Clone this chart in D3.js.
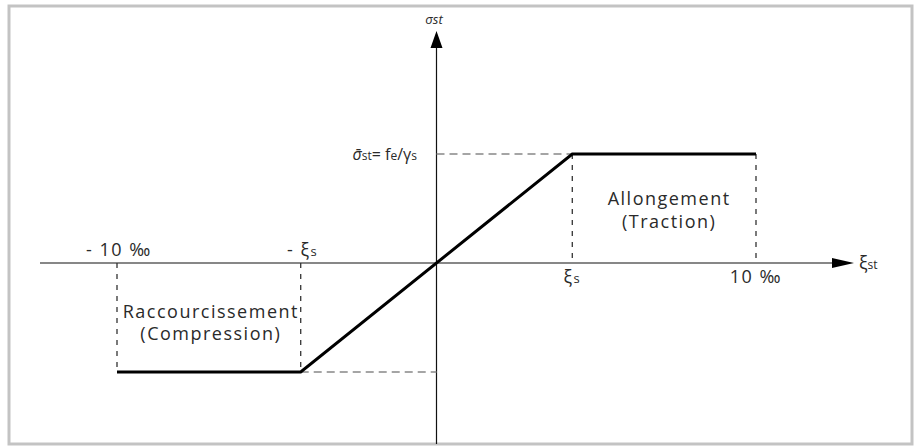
<!DOCTYPE html>
<html>
<head>
<meta charset="utf-8">
<script src="https://cdn.jsdelivr.net/npm/d3@7"></script>
<style>
  body { margin: 0; background: #fff; }
  text { font-family: "Open Sans", "DejaVu Sans", sans-serif; fill: #2a2a2a; }
</style>
</head>
<body>
<div class="chart"></div>
<script>
var svgWidth = 914;
var svgHeight = 448;

// strain (per mille) and normalised stress of the steel diagram
var xiS = 4.25;
var strain = [-10, -xiS, xiS, 10];
var stress = [-1, -1, 1, 1];

// tick positions and their labels
var tickValues = [-10, -xiS, xiS, 10];
var tickLabels = ["- 10 ‰", "- ξs", "ξs", "10 ‰"];

// region labels
var compressionLines = ["Raccourcissement", "(Compression)"];
var tractionLines = ["Allongement", "(Traction)"];

var svg = d3.select(".chart")
  .append("svg")
  .attr("width", svgWidth)
  .attr("height", svgHeight);

// frame
svg.append("rect")
  .attr("x", 9).attr("y", 6)
  .attr("width", 903).attr("height", 438)
  .attr("fill", "none")
  .attr("stroke", "#c3c3c3")
  .attr("stroke-width", 3);

var x = d3.scaleLinear().domain([-10, 10]).range([117, 756]);
var y = d3.scaleLinear().domain([-1, 1]).range([372, 154]);

var x0 = x(0), y0 = y(0);

// x axis line + arrow
svg.append("line")
  .attr("x1", 40).attr("x2", 836)
  .attr("y1", y0).attr("y2", y0)
  .attr("stroke", "#111").attr("stroke-width", 1.2);
svg.append("path")
  .attr("d", `M832,${y0 - 5}L854,${y0}L832,${y0 + 5}Z`)
  .attr("fill", "#000");

// y axis line + arrow
svg.append("line")
  .attr("x1", x0).attr("x2", x0)
  .attr("y1", 444).attr("y2", 46)
  .attr("stroke", "#111").attr("stroke-width", 1.2);
svg.append("path")
  .attr("d", `M${x0 - 6},48L${x0},31L${x0 + 6},48Z`)
  .attr("fill", "#000");

// axis titles
svg.append("text")
  .attr("x", 434).attr("y", 24)
  .attr("text-anchor", "middle")
  .attr("font-size", 13)
  .attr("font-style", "italic")
  .text("σst");

var xt = svg.append("text")
  .attr("x", 859).attr("y", 269)
  .attr("font-size", 18);
xt.append("tspan").text("ξ");
xt.append("tspan").attr("font-size", 12).text("st");

// vertical dashed guides
var vGuides = [
  { xv: -10, y1: 0, y2: -1 },
  { xv: -xiS, y1: 0, y2: -1 },
  { xv: xiS, y1: 1, y2: 0 },
  { xv: 10, y1: 1, y2: 0 }
];
svg.selectAll(".vguide")
  .data(vGuides)
  .enter()
  .append("line")
  .attr("class", "vguide")
  .attr("x1", d => x(d.xv)).attr("x2", d => x(d.xv))
  .attr("y1", d => y(d.y1)).attr("y2", d => y(d.y2))
  .attr("stroke", "#333")
  .attr("stroke-width", 1.3)
  .attr("stroke-dasharray", "5,6");

// horizontal dashed guides to the stress axis
svg.append("line")
  .attr("x1", x0).attr("x2", x(xiS))
  .attr("y1", y(1)).attr("y2", y(1))
  .attr("stroke", "#888").attr("stroke-width", 1.5)
  .attr("stroke-dasharray", "8,5");
svg.append("line")
  .attr("x1", x(-xiS)).attr("x2", x0)
  .attr("y1", y(-1)).attr("y2", y(-1))
  .attr("stroke", "#888").attr("stroke-width", 1.5)
  .attr("stroke-dasharray", "8,5");

// stress-strain law
var line = d3.line()
  .x((d, i) => x(d))
  .y((d, i) => y(stress[i]));

svg.append("path")
  .datum(strain)
  .attr("d", line)
  .attr("fill", "none")
  .attr("stroke", "#000")
  .attr("stroke-width", 3)
  .attr("stroke-linejoin", "miter");

// tick labels
tickLabels.forEach(function(lbl, i) {
  var v = tickValues[i];
  var above = v < 0;
  var t = svg.append("text")
    .attr("x", x(v) + (above ? 2 : 0))
    .attr("y", above ? 256 : 283)
    .attr("text-anchor", "middle")
    .attr("font-size", 18)
    .attr("letter-spacing", 1.5);
  if (lbl.indexOf("ξs") >= 0) {
    t.append("tspan").text(lbl.replace("s", ""));
    t.append("tspan").attr("font-size", 13).text("s");
  } else {
    t.text(lbl);
  }
});

// design yield stress label
var sl = svg.append("text")
  .attr("x", 417).attr("y", 160)
  .attr("text-anchor", "end")
  .attr("font-size", 16);
sl.append("tspan").attr("font-style", "italic").text("σ̄");
sl.append("tspan").attr("font-size", 12).text("st");
sl.append("tspan").text("= f");
sl.append("tspan").attr("font-size", 12).text("e");
sl.append("tspan").text("/γ");
sl.append("tspan").attr("font-size", 12).text("s");

// region labels
svg.selectAll(".comp")
  .data(compressionLines)
  .enter()
  .append("text")
  .attr("class", "comp")
  .attr("x", (x(-10) + x(-xiS)) / 2 + 2)
  .attr("y", (d, i) => 318 + i * 22)
  .attr("text-anchor", "middle")
  .attr("font-size", 18)
  .attr("letter-spacing", 1.5)
  .text(d => d);

svg.selectAll(".trac")
  .data(tractionLines)
  .enter()
  .append("text")
  .attr("class", "trac")
  .attr("x", (x(10) + x(xiS)) / 2 + 5)
  .attr("y", (d, i) => 205 + i * 23)
  .attr("text-anchor", "middle")
  .attr("font-size", 18)
  .attr("letter-spacing", 1.5)
  .text(d => d);
</script>
</body>
</html>
